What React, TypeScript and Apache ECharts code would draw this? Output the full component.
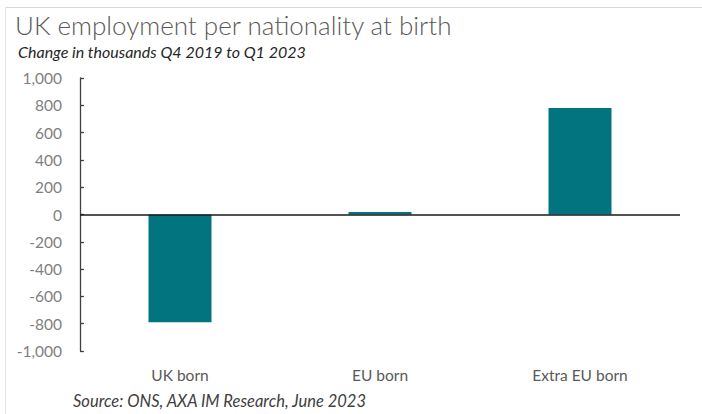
import React, { useEffect, useRef } from "react";
import * as echarts from "echarts";

const categories = ["UK born", "EU born", "Extra EU born"];
const changeValues = [-790, 18, 780];
const yTicks = [-1000, -800, -600, -400, -200, 0, 200, 400, 600, 800, 1000];

const TITLE = "UK employment per nationality at birth";
const SUBTITLE = "Change in thousands Q4 2019 to Q1 2023";
const SOURCE = "Source: ONS, AXA IM Research, June 2023";

const FONT = "Lato";

export default function App() {
  const ref = useRef<HTMLDivElement>(null);
  useEffect(() => {
    document.body.style.margin = "0";
    if (!ref.current) return;
    const chart = echarts.init(ref.current, null, { renderer: "svg" });
    chart.setOption({
      animation: false,
      backgroundColor: "#ffffff",
      textStyle: { fontFamily: FONT },
      grid: { left: 80, right: 22, top: 78, bottom: 63, containLabel: false },
      xAxis: {
        type: "category",
        data: categories,
        position: "bottom",
        axisLine: { show: false, onZero: false },
        axisTick: { show: false },
        axisLabel: { color: "#595959", fontSize: 15.5, margin: 16, fontFamily: FONT },
      },
      yAxis: {
        type: "value",
        min: yTicks[0],
        max: yTicks[yTicks.length - 1],
        interval: 200,
        splitLine: { show: false },
        axisLine: { show: true, lineStyle: { color: "#404040", width: 1.3 } },
        axisTick: { show: true, inside: true, length: 4, lineStyle: { color: "#404040", width: 1.3 } },
        axisLabel: {
          color: "#7f7f7f",
          fontSize: 15.5,
          margin: 18,
          fontFamily: FONT,
          formatter: (v: number) => {
            const s = Math.abs(v).toLocaleString("en-US");
            return (v < 0 ? "-" : "") + s;
          },
        },
      },
      series: [
        {
          type: "bar",
          data: changeValues,
          barWidth: 63,
          itemStyle: { color: "#017480" },
          markLine: {
            silent: true,
            symbol: ["none", "none"],
            label: { show: false },
            lineStyle: { color: "#1a1a1a", width: 1.5, type: "solid" },
            data: [{ yAxis: 0 }],
          },
        },
      ],
      graphic: [
        {
          type: "line",
          shape: { x1: 5, y1: 7.5, x2: 702, y2: 7.5 },
          style: { stroke: "#d9d9d9", lineWidth: 1 },
        },
        {
          type: "line",
          shape: { x1: 5.5, y1: 7, x2: 5.5, y2: 414 },
          style: { stroke: "#e3e3e3", lineWidth: 1 },
        },
        {
          type: "text",
          left: 15,
          top: 12,
          style: { text: TITLE, fill: "#595959", font: `300 26px ${FONT}` },
        },
        {
          type: "text",
          left: 18,
          top: 43,
          style: { text: SUBTITLE, fill: "#262626", font: `italic 16px ${FONT}` },
        },
        {
          type: "text",
          left: 73,
          top: 392,
          style: { text: SOURCE, fill: "#404040", font: `italic 16.5px ${FONT}` },
        },
      ],
    });
    return () => chart.dispose();
  }, []);
  return <div ref={ref} style={{ width: 702, height: 414 }} />;
}
